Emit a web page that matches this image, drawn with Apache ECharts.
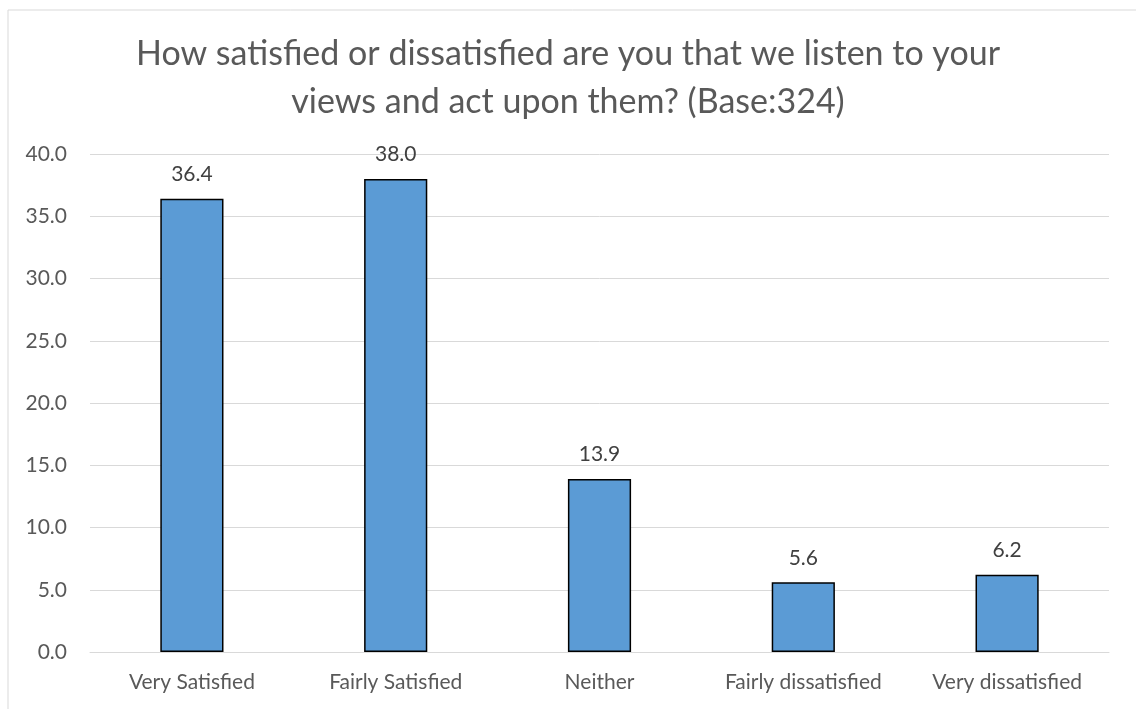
<!DOCTYPE html>
<html>
<head>
<meta charset="utf-8">
<script src="https://cdn.jsdelivr.net/npm/echarts@6/dist/echarts.min.js"></script>
<style>
html,body{margin:0;padding:0;background:#fff;}
#main{width:1136px;height:709px;}
</style>
</head>
<body>
<div id="main"></div>
<script>
const categories = ['Very Satisfied', 'Fairly Satisfied', 'Neither', 'Fairly dissatisfied', 'Very dissatisfied'];
const values = [36.4, 38.0, 13.9, 5.6, 6.2];
const titleText = 'How satisfied or dissatisfied are you that we listen to your\nviews and act upon them? (Base:324)';

const chart = echarts.init(document.getElementById('main'));
chart.setOption({
  backgroundColor: '#fff',
  animation: false,
  title: {
    text: titleText,
    left: 'center',
    top: 25,
    textStyle: {
      fontFamily: 'Lato',
      fontWeight: 'normal',
      fontSize: 34,
      color: '#595959',
      lineHeight: 48
    }
  },
  graphic: [{
    type: 'rect',
    shape: {x: 8, y: 10, width: 1140, height: 720},
    style: {fill: 'none', stroke: '#d9d9d9', lineWidth: 1},
    silent: true
  }],
  grid: {left: 90, right: 27, top: 154, bottom: 57, containLabel: false},
  xAxis: {
    type: 'category',
    data: categories,
    axisLine: {show: true, lineStyle: {color: '#d9d9d9', width: 1}},
    axisTick: {show: false},
    axisLabel: {color: '#595959', fontSize: 21, fontFamily: 'Lato', margin: 20, interval: 0, hideOverlap: false}
  },
  yAxis: {
    type: 'value',
    min: 0,
    max: 40,
    interval: 5,
    axisLine: {show: false},
    axisTick: {show: false},
    splitLine: {lineStyle: {color: '#d9d9d9', width: 1}},
    axisLabel: {
      color: '#595959', fontSize: 21, fontFamily: 'Lato', margin: 23,
      formatter: v => v.toFixed(1)
    }
  },
  series: [{
    type: 'bar',
    data: values,
    barWidth: '31%',
    itemStyle: {color: '#5B9BD5', borderColor: '#000', borderWidth: 1.5},
    label: {
      show: true,
      position: 'top',
      distance: 14,
      color: '#404040',
      fontSize: 21,
      fontFamily: 'Lato',
      formatter: p => p.value.toFixed(1)
    }
  }]
});
</script>
</body>
</html>
